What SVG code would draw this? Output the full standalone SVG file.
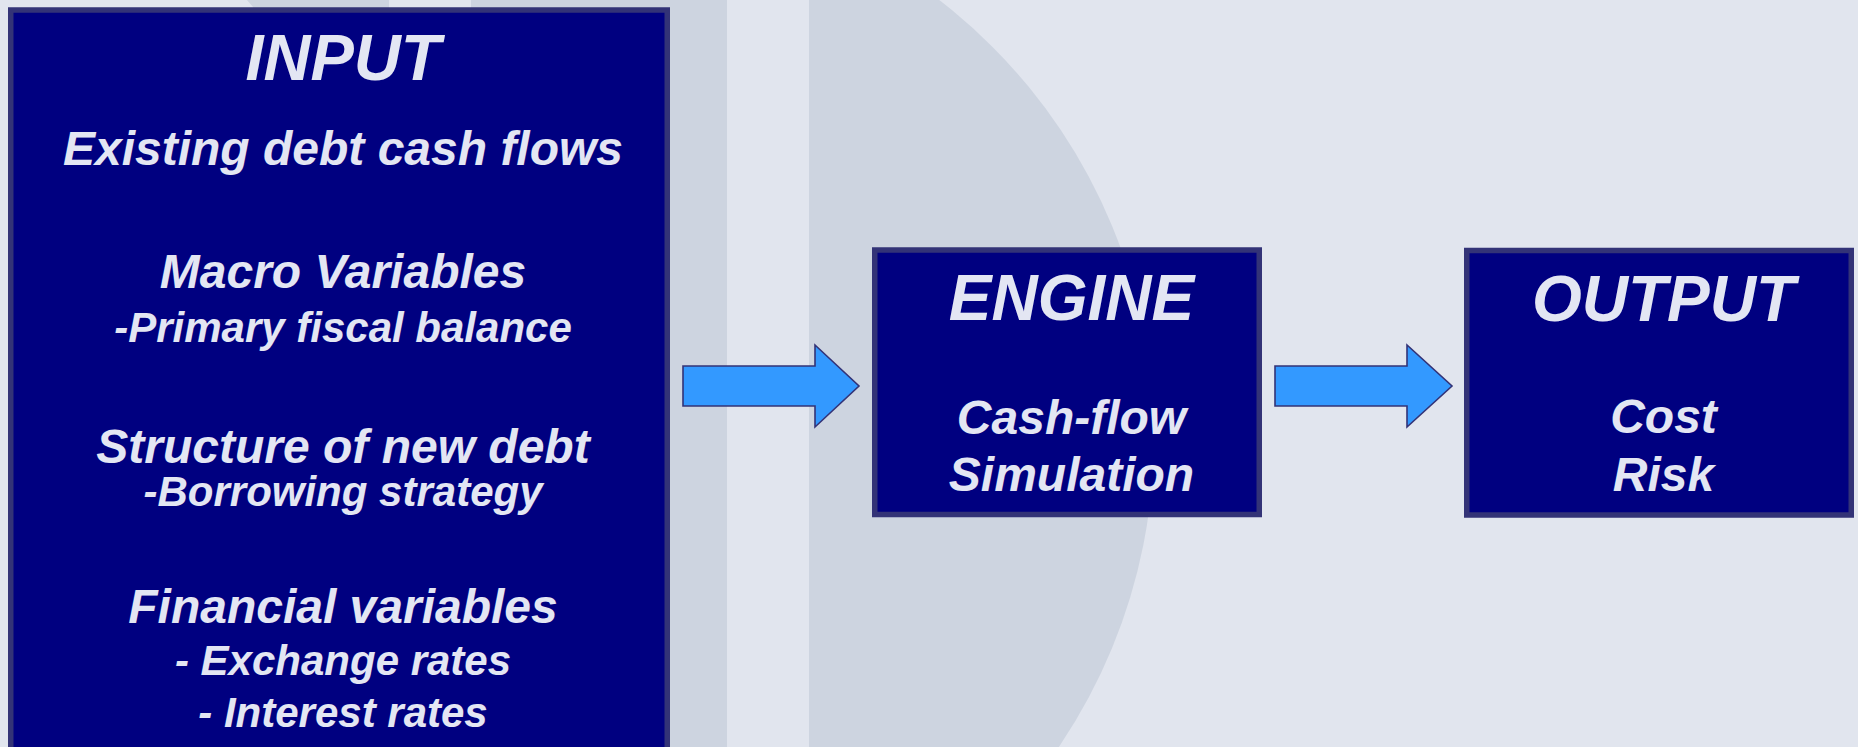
<svg xmlns="http://www.w3.org/2000/svg" width="1858" height="747" viewBox="0 0 1858 747">
  <style>
    .bg-light { fill: #E1E5EE; }
    .bg-dark { fill: #CDD4E0; }
    .box { fill: #000080; stroke: #333377; stroke-width: 5.5; }
    .arrow { fill: #3399FF; stroke: #333377; stroke-width: 1.6; stroke-linejoin: miter; }
    text { font-family: "Liberation Sans", Arial, sans-serif; font-weight: bold; font-style: italic; fill: #E3E6F3; text-anchor: middle; }
    .title { font-size: 65px; }
    .item { font-size: 48px; }
    .sub { font-size: 42px; }
  </style>
  <defs>
    <clipPath id="rightOfStrip">
      <rect x="809" y="0" width="1049" height="747"/>
    </clipPath>
  </defs>

  <!-- backdrop -->
  <rect class="bg-light" x="0" y="0" width="1858" height="747"/>
  <polygon class="bg-dark" points="247,0 389,0 389,747 253,747 253,7"/>
  <rect class="bg-dark" x="471" y="0" width="256" height="747"/>
  <circle class="bg-dark" cx="602" cy="437" r="552" clip-path="url(#rightOfStrip)"/>

  <!-- connectors -->
  <g id="connectors">
    <polygon class="arrow" points="683,366 815,366 815,345 859,386 815,427 815,406 683,406"/>
    <polygon class="arrow" points="1275,366 1407,366 1407,345 1452,386 1407,427 1407,406 1275,406"/>
  </g>

  <!-- input node -->
  <g id="input">
    <rect class="box" x="10.75" y="10" width="656.5" height="760"/>
    <text class="title" x="343" y="80">INPUT</text>
    <text class="item" x="343" y="165">Existing debt cash flows</text>
    <text class="item" x="343" y="288">Macro Variables</text>
    <text class="sub" x="343" y="342">-Primary fiscal balance</text>
    <text class="item" x="343" y="463">Structure of new debt</text>
    <text class="sub" x="343" y="506">-Borrowing strategy</text>
    <text class="item" x="343" y="623">Financial variables</text>
    <text class="sub" x="343" y="675">- Exchange rates</text>
    <text class="sub" x="343" y="727">- Interest rates</text>
  </g>

  <!-- engine node -->
  <g id="engine">
    <rect class="box" x="874.75" y="250" width="384.5" height="264.5"/>
    <text class="title" x="1071.5" y="320" style="font-size:64px">ENGINE</text>
    <text class="item" x="1071.5" y="433.5">Cash-flow</text>
    <text class="item" x="1071.5" y="490.5">Simulation</text>
  </g>

  <!-- output node -->
  <g id="output">
    <rect class="box" x="1466.75" y="250.5" width="384.5" height="264.5"/>
    <text class="title" x="1663.5" y="320.5" style="font-size:64px">OUTPUT</text>
    <text class="item" x="1663.5" y="433">Cost</text>
    <text class="item" x="1663.5" y="490.5">Risk</text>
  </g>
</svg>
